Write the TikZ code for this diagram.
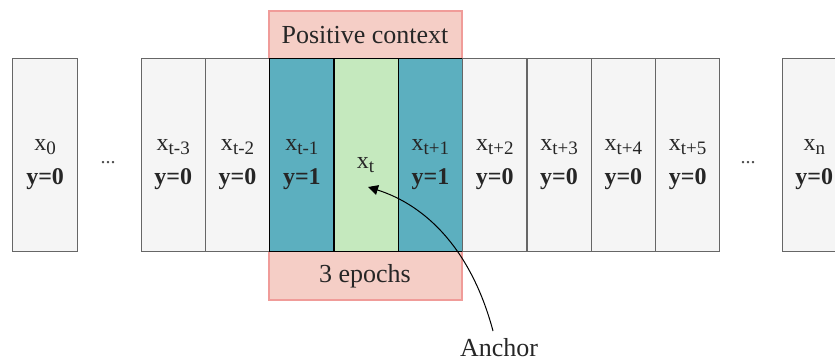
\documentclass[tikz,border=0pt]{standalone}
\usepackage{fontspec}
\setmainfont{Liberation Serif}
\usetikzlibrary{arrows.meta}
\definecolor{cellfill}{RGB}{245,245,245}
\definecolor{celldraw}{RGB}{102,102,102}
\definecolor{teal}{RGB}{92,175,191}
\definecolor{anchorgreen}{RGB}{197,233,190}
\definecolor{pinkfill}{RGB}{245,206,198}
\definecolor{pinkdraw}{RGB}{240,156,153}
\tikzset{
  cellbox/.style={draw=celldraw, line width=1.2pt, fill=cellfill, minimum width=64.3pt, minimum height=193pt, inner sep=0pt, anchor=north west},
  posbox/.style={cellbox, draw=black, fill=teal},
  anchbox/.style={cellbox, draw=black, fill=anchorgreen},
  lbl/.style={align=center, font=\fontsize{24}{34}\selectfont, text=black!85, yshift=-9pt},
  big/.style={font=\fontsize{26}{30}\selectfont, text=black!85},
  dots/.style={font=\fontsize{20}{22}\selectfont, text=black!70},
}
\newcommand{\sub}[1]{\raisebox{-4pt}{\fontsize{19}{19}\selectfont #1}}
\newcommand{\lab}[2]{x\sub{#1}\\\textbf{y=#2}}
\begin{document}
\begin{tikzpicture}[x=1pt,y=-1pt]
\useasboundingbox (0,0) rectangle (835,363);
% context frame
\node[draw=pinkdraw, fill=pinkfill, line width=2pt, minimum width=193pt, minimum height=289pt, inner sep=0pt, anchor=north west] (ctx) at (268,10) {};
\node[big] (pos) at (365,35) {Positive context};
\node[big] (ep) at (365,276) {3 epochs};
% cells
\node[cellbox, minimum width=65pt] (c0) at (12,58) {};
\node[lbl] at (c0) {\lab{0}{0}};
\node[dots] (d1) at (108,163) {...};
\node[cellbox] (cm3) at (140.5,58) {};
\node[lbl] at (cm3) {\lab{t-3}{0}};
\node[cellbox] (cm2) at (204.8,58) {};
\node[lbl] at (cm2) {\lab{t-2}{0}};
\node[posbox] (cm1) at (269.1,58) {};
\node[lbl] at (cm1) {\lab{t-1}{1}};
\node[anchbox] (ct) at (333.4,58) {};
\node[lbl, anchor=center, yshift=0pt] (xt) at (365.5,156) {x\sub{t}};
\node[posbox] (cp1) at (397.7,58) {};
\node[lbl] at (cp1) {\lab{t+1}{1}};
\node[cellbox] (cp2) at (462,58) {};
\node[lbl] at (cp2) {\lab{t+2}{0}};
\node[cellbox] (cp3) at (526.3,58) {};
\node[lbl] at (cp3) {\lab{t+3}{0}};
\node[cellbox] (cp4) at (590.6,58) {};
\node[lbl] at (cp4) {\lab{t+4}{0}};
\node[cellbox] (cp5) at (654.9,58) {};
\node[lbl] at (cp5) {\lab{t+5}{0}};
\node[dots] (d2) at (748,163) {...};
\node[cellbox] (cn) at (781.5,58) {};
\node[lbl] at (cn) {\lab{n}{0}};
% anchor arrow
\node[big] (anc) at (499,348) {Anchor};
\coordinate (tip) at (368,187);
\draw[line width=1pt, -{Triangle[length=10pt,width=10pt]}] (493,331) .. controls (472,252) and (428,206) .. (tip);
\end{tikzpicture}
\end{document}
